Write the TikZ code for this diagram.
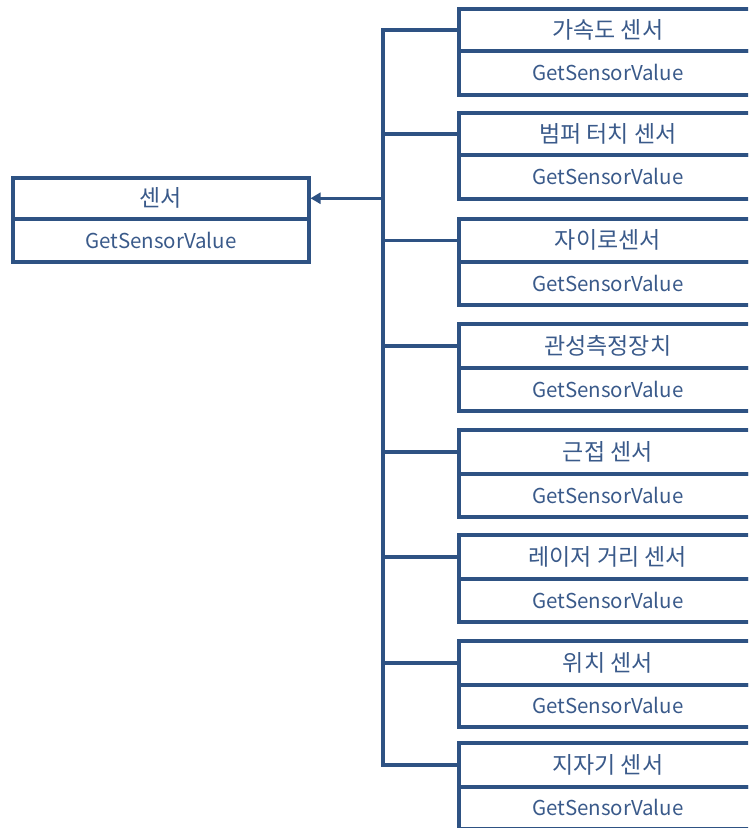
\documentclass[tikz,border=0pt]{standalone}
\usepackage{fontspec}
\setmainfont{Noto Sans CJK KR}
\usetikzlibrary{arrows.meta,calc}
\definecolor{ln}{HTML}{2E5283}
\definecolor{tx}{HTML}{3A5A8A}
\begin{document}
\begin{tikzpicture}[x=1pt,y=-1pt,
  cell/.style={draw=ln,line width=3.5pt,minimum width=298pt,inner sep=0pt,text=tx,font=\fontsize{20.5}{21}\selectfont,anchor=north west},
  hcell/.style={cell,font=\fontsize{23}{24}\selectfont},
  lcell/.style={cell,minimum width=296pt},
  lhcell/.style={hcell,minimum width=296pt},
  conn/.style={draw=ln,line width=3.5pt}]
\useasboundingbox (0,0) rectangle (748,828);
\clip (0,0) rectangle (748,828);
% left box
\node[lhcell,minimum height=41pt] (Lh) at (11,176) {센서};
\node[lcell,minimum height=43pt] (Lb) at (11,217) {GetSensorValue};
% right boxes
\foreach \i/\t/\d/\b/\name in {1/7/49/93/가속도 센서,2/111/153/197/범퍼 터치 센서,3/217/260/303/자이로센서,4/322/366/409/관성측정장치,5/428/472/515/근접 센서,6/533/577/620/레이저 거리 센서,7/639/683/725/위치 센서,8/741/785/827/지자기 센서}{
  \pgfmathsetmacro{\hh}{\d-\t}
  \pgfmathsetmacro{\bh}{\b-\d}
  \node[hcell,minimum height=\hh pt] (h\i) at (457,\t) {\name};
  \node[cell,minimum height=\bh pt] (b\i) at (457,\d) {GetSensorValue};
}
\coordinate (t) at (383,0);
\coordinate (tt) at (t |- h1.west);
\coordinate (tb) at (t |- h8.west);
\coordinate (tm) at (t |- Lh.east);
\draw[conn,line cap=butt] ($(tt)+(0,-1.75)$) -- ($(tb)+(0,1.75)$);
\foreach \i in {1,...,8}{
  \draw[conn] (t |- h\i.west) -- (h\i.west);
}
\draw[conn,-{Triangle[length=10pt,width=11pt]}] (tm) -- (Lh.east);
\end{tikzpicture}
\end{document}
